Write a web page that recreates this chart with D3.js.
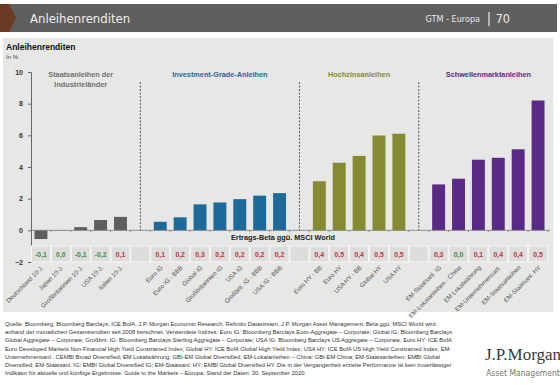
<!DOCTYPE html>
<html>
<head>
<meta charset="utf-8">
<script src="https://cdn.jsdelivr.net/npm/d3@7"></script>
<style>
  body { margin: 0; background: #fff; }
  svg { display: block; font-family: "Liberation Sans", Arial, sans-serif; }
</style>
</head>
<body>
<div id="chart"></div>
<script>
// categories per group, "" = spacer slot
var categories = [
    "Deutschland 10-J.", "Japan 10-J.", "Großbritannien 10-J.", "USA 10-J.", "Italien 10-J.", "",
    "Euro IG", "Euro IG - BBB", "Global IG", "Großbritannien IG", "USA IG", "Großbrit. IG - BBB", "USA IG - BBB", "",
    "Euro HY - BB", "Euro HY", "USA HY - BB", "Global HY", "USA HY", "",
    "EM-Staatsanl. IG", "EM-Lokalanleihen - China", "EM Lokalwährung", "EM-Unternehmensanl.", "EM-Staatsanleihen", "EM-Staatsanl. HY"
];
var groupOf = [0, 0, 0, 0, 0, -1, 1, 1, 1, 1, 1, 1, 1, -1, 2, 2, 2, 2, 2, -1, 3, 3, 3, 3, 3, 3];
var yields = [
    -0.55, 0.02, 0.2, 0.65, 0.85, null,
    0.54, 0.82, 1.64, 1.76, 1.97, 2.19, 2.35, null,
    3.1, 4.27, 4.7, 5.99, 6.1, null,
    2.9, 3.26, 4.46, 4.58, 5.12, 8.2
];
var betas = [
    "-0,1", "0,0", "-0,1", "-0,2", "0,1", "",
    "0,1", "0,2", "0,3", "0,2", "0,2", "0,2", "0,2", "",
    "0,4", "0,5", "0,4", "0,5", "0,5", "",
    "0,3", "0,0", "0,1", "0,4", "0,4", "0,5"
];
var groupTitles = [["Staatsanleihen der", "Industrieländer"], ["Investment-Grade-Anleihen"], ["Hochzinsanleihen"], ["Schwellenmarktanleihen"]];
var groupColors = ["#5e5e5e", "#1d6a9a", "#858a33", "#5a2a85"];
var yTicks = [-2, 0, 2, 4, 6, 8, 10];
var footnote = [
    "Quelle: Bloomberg, Bloomberg Barclays, ICE BofA, J.P. Morgan Economic Research, Refinitiv Datastream, J.P. Morgan Asset Management. Beta ggü. MSCI World wird",
    "anhand der monatlichen Gesamtrenditen seit 2008 berechnet. Verwendete Indizes: Euro IG: Bloomberg Barclays Euro-Aggregate – Corporate; Global IG: Bloomberg Barclays",
    "Global Aggregate – Corporate; Großbrit. IG: Bloomberg Barclays Sterling Aggregate – Corporate; USA IG: Bloomberg Barclays US Aggregate – Corporate; Euro HY: ICE BofA",
    "Euro Developed Markets Non-Financial High Yield Constrained Index; Global HY: ICE BofA Global High Yield Index; USA HY: ICE BofA US High Yield Constrained Index; EM-",
    "Unternehmensanl.: CEMBI Broad Diversified; EM Lokalwährung: GBI-EM Global Diversified; EM-Lokalanleihen – China: GBI-EM China; EM-Staatsanleihen: EMBI Global",
    "Diversified; EM-Staatsanl. IG: EMBI Global Diversified IG; EM-Staatsanl. HY: EMBI Global Diversified HY. Die in der Vergangenheit erzielte Performance ist kein zuverlässiger",
    "Indikator für aktuelle und künftige Ergebnisse. Guide to the Markets – Europa. Stand der Daten: 30. September 2020."
];

var width = 560, height = 385;
var svg = d3.select("#chart").append("svg")
    .attr("width", width)
    .attr("height", height);

// header bar
svg.append("rect").attr("x", 5).attr("y", 4).attr("width", 552).attr("height", 28).attr("fill", "#5f5f5f");
svg.append("path").attr("d", "M0,4 L9,4 L16,18 L9,32 L0,32 Z").attr("fill", "#6b3a22");
svg.append("text").attr("x", 30).attr("y", 23)
    .style("font-family", "'Liberation Sans Narrow', 'DejaVu Sans Condensed', sans-serif")
    .style("font-size", "13px").attr("fill", "#eeeeee").text("Anleihenrenditen");
svg.append("text").attr("x", 480).attr("y", 22).attr("text-anchor", "end")
    .style("font-family", "'Liberation Sans Narrow', 'DejaVu Sans Condensed', sans-serif")
    .style("font-size", "9px").attr("fill", "#e6e6e6").text("GTM - Europa");
svg.append("line").attr("x1", 489).attr("x2", 489).attr("y1", 12).attr("y2", 26).attr("stroke", "#eee").attr("stroke-width", 1.2);
svg.append("text").attr("x", 510).attr("y", 23).attr("text-anchor", "end")
    .style("font-family", "'Liberation Sans Narrow', 'DejaVu Sans Condensed', sans-serif")
    .style("font-size", "12.5px").attr("fill", "#eeeeee").text("70");

// panel
svg.append("rect").attr("x", 3).attr("y", 38).attr("width", 550).attr("height", 274).attr("fill", "#e7e7e5");
svg.append("text").attr("x", 6).attr("y", 50).style("font-size", "8.5px").style("font-weight", "bold")
    .attr("fill", "#111").text("Anleihenrenditen");
svg.append("text").attr("x", 6).attr("y", 59).style("font-size", "6px").attr("fill", "#444").text("In %");

var x = d3.scaleBand()
    .domain(d3.range(categories.length))
    .range([31, 548])
    .paddingInner(0.35)
    .paddingOuter(0.175);
var step = x.step();
var y = d3.scaleLinear().domain([-2, 10]).range([262, 72]);

// y axis
var yAxis = svg.append("g").attr("transform", "translate(31,0)")
    .call(d3.axisLeft(y).tickValues(yTicks).tickSize(3).tickPadding(5));
yAxis.select(".domain").attr("stroke", "#666");
yAxis.selectAll(".tick line").attr("stroke", "#666");
yAxis.selectAll("text").style("font-size", "7px").style("font-weight", "bold")
    .style("font-family", "'Liberation Sans', Arial, sans-serif").attr("fill", "#333");

// group dividers
var spacerIdx = [];
groupOf.forEach(function(g, i) { if (g === -1) spacerIdx.push(i); });
svg.selectAll(".divider").data(spacerIdx).enter().append("line")
    .attr("class", "divider")
    .attr("x1", function(i) { return x(i) + x.bandwidth() / 2; })
    .attr("x2", function(i) { return x(i) + x.bandwidth() / 2; })
    .attr("y1", 82).attr("y2", y(0))
    .attr("stroke", "#555").attr("stroke-width", 1).attr("stroke-dasharray", "2,1.5");

// group titles
var groupCenters = [0, 1, 2, 3].map(function(g) {
    var idx = [];
    groupOf.forEach(function(gg, i) { if (gg === g) idx.push(i); });
    return (x(idx[0]) + x(idx[idx.length - 1]) + x.bandwidth()) / 2;
});
var titles = svg.selectAll(".gtitle").data(groupTitles).enter().append("text")
    .attr("class", "gtitle")
    .attr("text-anchor", "middle")
    .style("font-size", "7.3px").style("font-weight", "bold")
    .attr("fill", function(d, i) { return i === 0 ? "#707070" : groupColors[i]; })
    .attr("transform", function(d, i) { return "translate(" + groupCenters[i] + ",77)"; });
titles.selectAll("tspan").data(function(d) { return d; }).enter().append("tspan")
    .attr("x", 0).attr("dy", function(d, i) { return i === 0 ? 0 : 10; })
    .text(function(d) { return d; });

// bars
var barData = yields.map(function(v, i) { return { i: i, v: v, g: groupOf[i] }; })
    .filter(function(d) { return d.v !== null; });
svg.selectAll(".bar").data(barData).enter().append("rect")
    .attr("class", "bar")
    .attr("x", function(d) { return x(d.i); })
    .attr("width", x.bandwidth())
    .attr("y", function(d) { return y(Math.max(0, d.v)); })
    .attr("height", function(d) { return Math.abs(y(d.v) - y(0)); })
    .attr("fill", function(d) { return groupColors[d.g]; });

// zero line with small ticks at slot boundaries
svg.append("line").attr("x1", 31).attr("x2", 550).attr("y1", y(0)).attr("y2", y(0))
    .attr("stroke", "#777").attr("stroke-width", 0.8);
svg.selectAll(".xtick").data(d3.range(1, categories.length + 1)).enter().append("line")
    .attr("class", "xtick")
    .attr("x1", function(i) { return x(0) - (step - x.bandwidth()) / 2 + i * step; })
    .attr("x2", function(i) { return x(0) - (step - x.bandwidth()) / 2 + i * step; })
    .attr("y1", y(0)).attr("y2", y(0) + 2)
    .attr("stroke", "#777").attr("stroke-width", 0.8);

// beta label
svg.append("text").attr("x", 283).attr("y", 240).attr("text-anchor", "middle")
    .style("font-size", "7.3px").style("font-weight", "bold").attr("fill", "#222")
    .text("Ertrags-Beta ggü. MSCI World");

// beta boxes
var boxes = svg.selectAll(".beta").data(betas).enter().append("g").attr("class", "beta")
    .attr("transform", function(d, i) { return "translate(" + (x(i) + x.bandwidth() / 2) + ",0)"; });
boxes.append("rect")
    .attr("x", -step / 2 + 0.5).attr("width", step - 1)
    .attr("y", 246).attr("height", 16)
    .attr("fill", "#dddddb").attr("stroke", "#f6f6f6").attr("stroke-width", 1);
boxes.append("text")
    .attr("text-anchor", "middle").attr("y", 257)
    .style("font-size", "6.8px").style("font-weight", "bold")
    .attr("fill", function(d) { return parseFloat(d.replace(",", ".")) > 0 ? "#b8343f" : "#3f8a3f"; })
    .text(function(d) { return d; });

// category labels
svg.selectAll(".xlabel").data(categories).enter().append("text")
    .attr("class", "xlabel")
    .attr("text-anchor", "end")
    .attr("transform", function(d, i) { return "translate(" + (x(i) + x.bandwidth() / 2 + 3) + ",268) rotate(-45)"; })
    .style("font-size", "6.2px").attr("fill", "#555")
    .text(function(d) { return d; });

// footnote
svg.append("text").attr("x", 5).attr("y", 326)
    .style("font-size", "5.8px").attr("fill", "#333")
    .selectAll("tspan").data(footnote).enter().append("tspan")
    .attr("x", 5).attr("dy", function(d, i) { return i === 0 ? 0 : 8.2; })
    .text(function(d) { return d; });

// logo
svg.append("text").attr("x", 523).attr("y", 360).attr("text-anchor", "middle")
    .style("font-family", "'Liberation Serif', 'DejaVu Serif', serif")
    .style("font-size", "17px").attr("fill", "#3a3a3a").text("J.P.Morgan");
svg.append("text").attr("x", 523).attr("y", 376).attr("text-anchor", "middle")
    .style("font-family", "'Liberation Sans Narrow', 'DejaVu Sans Condensed', sans-serif")
    .style("font-size", "8.5px").attr("fill", "#777").text("Asset Management");
</script>
</body>
</html>
